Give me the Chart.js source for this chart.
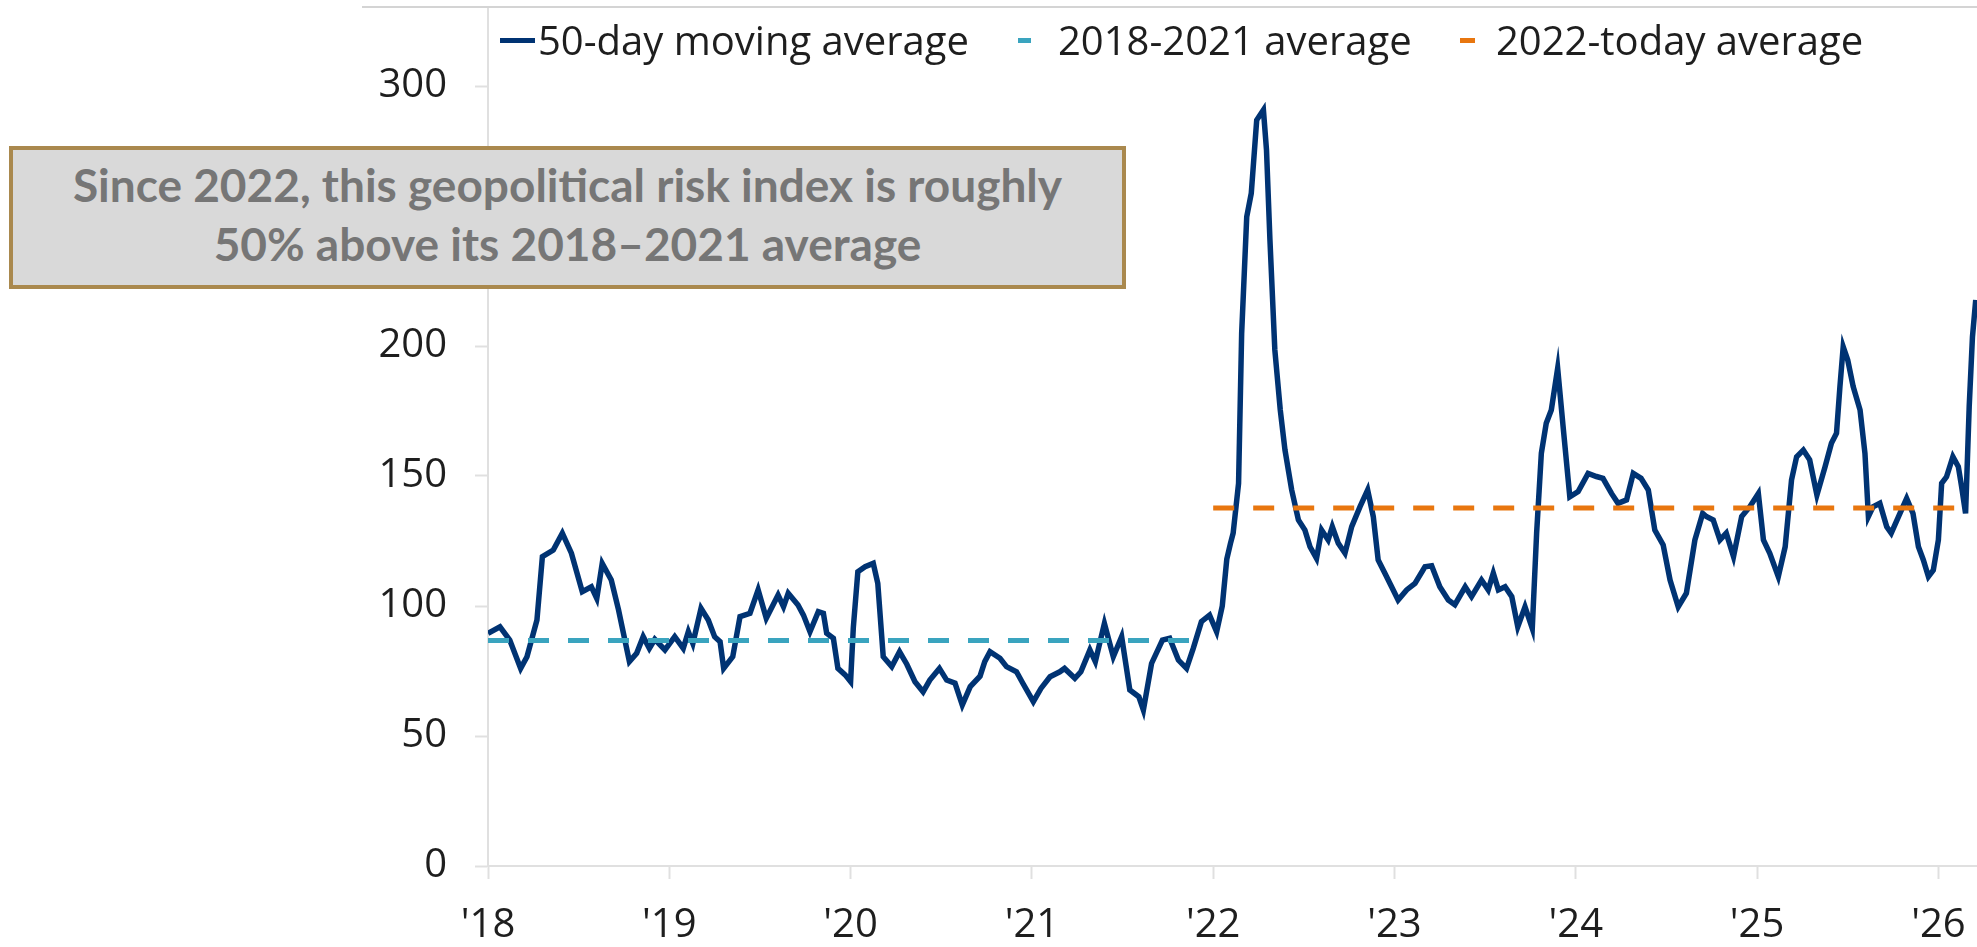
<!DOCTYPE html>
<html lang="en">

<head>
    <meta charset="utf-8">
    <title>Geopolitical risk index</title>
    <script src="https://cdn.jsdelivr.net/npm/chart.js@4.4.1/dist/chart.umd.min.js"></script>
    <style>
        body { margin: 0; background: #fff; }
        #container { position: relative; width: 1977px; height: 947px; overflow: hidden; }
        #topline { position: absolute; left: 362px; right: 0; top: 6px; height: 2px; background: #d4d4d4; }
        .legend { position: absolute; top: 14px; font: 40px "Open Sans", sans-serif; color: #1e1e1e; line-height: 52px; white-space: nowrap; }
        .mark { position: absolute; top: 38px; height: 5px; }
        #note {
            position: absolute; left: 9px; top: 146px; width: 1109px; height: 135px;
            border: 4px solid #aa894e; background: #d9d9d9; color: #767676;
            font: bold 46px Lato, sans-serif; line-height: 59px; text-align: center;
            display: flex; align-items: center; justify-content: center;
        }
        #note span { position: relative; top: -4px; }
    </style>
</head>

<body>
    <div id="container">
        <canvas id="gpr"></canvas>
        <div id="topline"></div>
        <div class="mark" style="left: 500px; width: 35px; background: #003373;"></div>
        <div class="legend" style="left: 538px;">50-day moving average</div>
        <div class="mark" style="left: 1018px; width: 13px; background: #3aa4bf;"></div>
        <div class="legend" style="left: 1058px;">2018-2021 average</div>
        <div class="mark" style="left: 1460px; width: 15px; background: #e8760f;"></div>
        <div class="legend" style="left: 1496px;">2022-today average</div>
        <div id="note"><span>Since 2022, this geopolitical risk index is roughly<br>50% above its 2018–2021 average</span></div>
    </div>
    <script>
        // decimal years and 50-day moving average of the index
        const dates = [
            2018.000, 2018.066, 2018.120, 2018.180, 2018.215, 2018.270, 2018.300, 2018.360, 2018.410, 2018.460,
            2018.520, 2018.570, 2018.600, 2018.630, 2018.680, 2018.720, 2018.755, 2018.780, 2018.820, 2018.856,
            2018.890, 2018.920, 2018.976, 2019.030, 2019.077, 2019.105, 2019.130, 2019.175, 2019.215, 2019.250,
            2019.280, 2019.300, 2019.350, 2019.390, 2019.445, 2019.490, 2019.535, 2019.600, 2019.630, 2019.656,
            2019.710, 2019.740, 2019.776, 2019.822, 2019.850, 2019.868, 2019.905, 2019.930, 2019.970, 2020.000,
            2020.015, 2020.040, 2020.080, 2020.125, 2020.150, 2020.180, 2020.227, 2020.270, 2020.310, 2020.355,
            2020.400, 2020.437, 2020.490, 2020.530, 2020.576, 2020.616, 2020.660, 2020.714, 2020.740, 2020.769,
            2020.824, 2020.860, 2020.915, 2020.950, 2021.008, 2021.050, 2021.100, 2021.154, 2021.180, 2021.237,
            2021.270, 2021.320, 2021.350, 2021.400, 2021.449, 2021.495, 2021.540, 2021.590, 2021.615, 2021.660,
            2021.720, 2021.760, 2021.808, 2021.853, 2021.890, 2021.935, 2021.980, 2022.019, 2022.050, 2022.075,
            2022.095, 2022.110, 2022.140, 2022.157, 2022.185, 2022.210, 2022.240, 2022.277, 2022.294, 2022.313,
            2022.340, 2022.370, 2022.396, 2022.433, 2022.470, 2022.506, 2022.534, 2022.570, 2022.598, 2022.634,
            2022.657, 2022.690, 2022.727, 2022.764, 2022.810, 2022.852, 2022.883, 2022.910, 2022.947, 2022.984,
            2023.020, 2023.067, 2023.113, 2023.168, 2023.205, 2023.250, 2023.297, 2023.333, 2023.390, 2023.425,
            2023.480, 2023.517, 2023.545, 2023.573, 2023.610, 2023.647, 2023.680, 2023.720, 2023.760, 2023.784,
            2023.810, 2023.837, 2023.865, 2023.900, 2023.930, 2023.967, 2024.013, 2024.068, 2024.114, 2024.150,
            2024.197, 2024.233, 2024.280, 2024.317, 2024.360, 2024.400, 2024.436, 2024.482, 2024.520, 2024.565,
            2024.610, 2024.657, 2024.700, 2024.720, 2024.758, 2024.795, 2024.830, 2024.870, 2024.915, 2024.960,
            2025.007, 2025.035, 2025.070, 2025.117, 2025.155, 2025.190, 2025.218, 2025.255, 2025.290, 2025.330,
            2025.375, 2025.410, 2025.438, 2025.457, 2025.475, 2025.500, 2025.530, 2025.568, 2025.595, 2025.614,
            2025.640, 2025.677, 2025.715, 2025.740, 2025.788, 2025.825, 2025.860, 2025.890, 2025.917, 2025.945,
            2025.972, 2026.000, 2026.018, 2026.045, 2026.080, 2026.110, 2026.128, 2026.150, 2026.170, 2026.188,
            2026.206
        ];
        const movingAverage = [
            89.5, 92.0, 86.9, 76.0, 80.5, 94.6, 119.0, 121.5, 128.0, 120.3,
            105.5, 107.4, 102.9, 116.4, 110.0, 98.5, 86.9, 78.6, 81.8, 88.2,
            83.7, 87.2, 83.1, 88.2, 83.7, 90.1, 85.6, 99.1, 94.6, 88.2,
            86.3, 76.0, 80.5, 95.9, 97.2, 106.2, 95.3, 104.2, 99.7, 104.9,
            100.4, 96.5, 90.1, 97.8, 97.2, 89.5, 87.6, 76.0, 73.5, 70.9,
            91.7, 113.2, 115.1, 116.4, 108.7, 80.5, 76.7, 82.4, 77.6, 70.9,
            67.0, 71.5, 76.0, 71.5, 70.3, 61.9, 69.0, 73.0, 78.6, 82.4,
            79.9, 76.7, 74.7, 70.3, 63.2, 68.3, 72.8, 74.7, 76.0, 72.2,
            74.7, 83.1, 78.6, 93.3, 80.5, 88.2, 67.7, 65.1, 60.0, 77.9,
            86.9, 87.6, 79.2, 76.0, 83.7, 94.0, 96.5, 90.1, 100.0, 118.0,
            124.0, 128.0, 147.2, 204.9, 249.7, 258.7, 286.9, 290.8, 275.4, 240.8,
            198.5, 175.4, 160.0, 144.6, 133.1, 129.2, 122.8, 118.3, 129.2, 125.4,
            130.5, 124.1, 120.3, 130.5, 138.2, 144.6, 134.4, 117.7, 112.6, 107.4,
            102.3, 106.2, 108.7, 115.1, 115.5, 107.4, 102.3, 100.5, 107.4, 103.6,
            110.0, 106.2, 112.6, 106.2, 107.4, 103.6, 92.0, 99.7, 91.4, 128.0,
            158.7, 170.3, 175.4, 191.4, 169.0, 142.0, 144.0, 151.0, 149.8, 149.1,
            143.3, 139.5, 140.8, 151.0, 149.1, 144.6, 129.2, 123.5, 110.0, 99.7,
            104.9, 125.4, 135.6, 134.4, 133.1, 125.4, 128.0, 119.0, 134.4, 138.2,
            143.3, 125.4, 120.3, 111.3, 122.8, 148.5, 157.4, 160.0, 156.2, 142.7,
            153.6, 162.6, 166.4, 184.4, 199.7, 194.6, 184.4, 175.4, 158.7, 134.4,
            138.2, 139.5, 130.5, 128.0, 135.6, 141.4, 135.6, 122.8, 117.7, 111.3,
            113.8, 125.4, 147.2, 149.7, 157.4, 153.6, 145.9, 135.6, 176.7, 203.6,
            217.7
        ];

        // period averages (start, end) and their levels
        const earlyPeriod = [2018, 2021.96];
        const earlyAverage = [86.7, 86.7];
        const latePeriod = [2022, 2026.12];
        const lateAverage = [137.7, 137.7];

        const yearTicks = [2018, 2019, 2020, 2021, 2022, 2023, 2024, 2025, 2026];
        const valueTicks = [0, 50, 100, 150, 200, 250, 300];

        const toPoints = (xs, ys) => xs.map((x, i) => ({ x: x, y: ys[i] }));

        const tickFont = { family: 'Open Sans', size: 40 };
        const axisGrey = '#e0e0e0';

        new Chart(document.getElementById('gpr'), {
            type: 'line',
            data: {
                datasets: [{
                    label: '50-day moving average',
                    data: toPoints(dates, movingAverage),
                    borderColor: '#003373',
                    borderWidth: 5.5,
                    order: 2,
                }, {
                    label: '2018-2021 average',
                    data: toPoints(earlyPeriod, earlyAverage),
                    borderColor: '#3aa4bf',
                    borderWidth: 5,
                    borderDash: [21, 19],
                    order: 1,
                }, {
                    label: '2022-today average',
                    data: toPoints(latePeriod, lateAverage),
                    borderColor: '#e8760f',
                    borderWidth: 5,
                    borderDash: [21, 19],
                    order: 1,
                }]
            },
            options: {
                responsive: true,
                maintainAspectRatio: false,
                animation: false,
                pointRadius: 0,
                layout: { padding: { top: 8, left: 0, right: 0, bottom: 0 } },
                plugins: { legend: { display: false }, tooltip: { enabled: false } },
                scales: {
                    x: {
                        type: 'linear',
                        min: 2018,
                        max: 2026.213,
                        afterBuildTicks: (scale) => { scale.ticks = yearTicks.map(v => ({ value: v })); },
                        afterFit: (scale) => {
                            scale.height = 81;
                            scale.paddingLeft = 0;
                            scale.paddingRight = 0;
                        },
                        ticks: {
                            callback: (v) => "'" + String(v).slice(2),
                            font: tickFont,
                            color: '#1e1e1e',
                            padding: 23,
                            maxRotation: 0,
                            autoSkip: false,
                        },
                        grid: { drawOnChartArea: false, tickLength: 13, tickColor: axisGrey, tickWidth: 2 },
                        border: { color: axisGrey, width: 2 },
                    },
                    y: {
                        min: 0,
                        max: 330,
                        afterBuildTicks: (scale) => { scale.ticks = valueTicks.map(v => ({ value: v })); },
                        afterFit: (scale) => {
                            scale.width = 488;
                            scale.paddingTop = 0;
                            scale.paddingBottom = 0;
                        },
                        ticks: { font: tickFont, color: '#1e1e1e', padding: 28 },
                        grid: { drawOnChartArea: false, tickLength: 13, tickColor: axisGrey, tickWidth: 2 },
                        border: { color: axisGrey, width: 2 },
                    },
                }
            }
        });
    </script>
</body>

</html>
